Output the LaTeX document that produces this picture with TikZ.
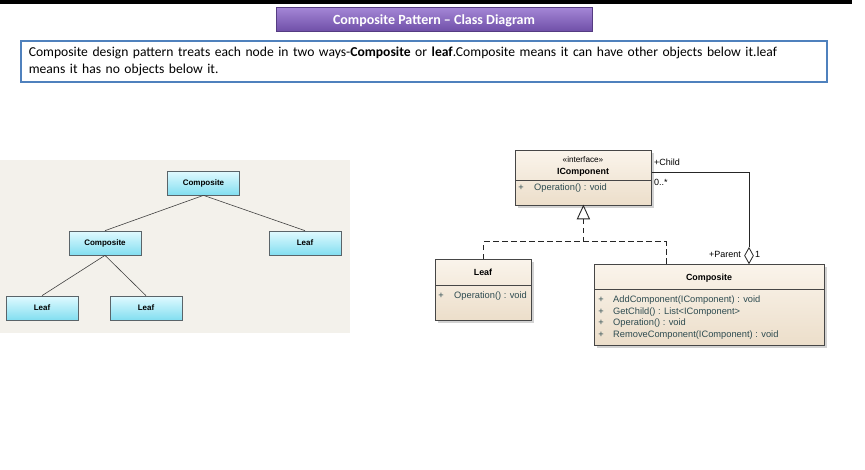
\documentclass[tikz,border=0pt]{standalone}
\usepackage{fontspec}
\setmainfont{Carlito}
\newfontfamily\umlfont{Liberation Sans}
\usetikzlibrary{shapes.geometric,shadows,calc}
\definecolor{descblue}{RGB}{79,129,189}
\definecolor{panelbg}{RGB}{243,241,235}
\definecolor{treeborder}{RGB}{90,100,105}
\definecolor{cyantop}{RGB}{225,250,255}
\definecolor{cyanbot}{RGB}{130,222,240}
\definecolor{umlborder}{RGB}{70,70,70}
\definecolor{umltop}{RGB}{250,244,235}
\definecolor{umlbot}{RGB}{236,222,202}
\definecolor{methodcol}{RGB}{45,75,80}
\definecolor{purtop}{RGB}{165,135,215}
\definecolor{purbot}{RGB}{112,80,168}
\definecolor{purborder}{RGB}{85,60,130}
\begin{document}
\begin{tikzpicture}[x=1pt,y=-1pt,
  titlebox/.style={draw=purborder, line width=0.8pt, top color=purtop, bottom color=purbot,
    minimum width=316, minimum height=24, inner sep=0pt, text=white,
    font=\bfseries\fontsize{14}{16}\selectfont},
  descbox/.style={draw=descblue, line width=1.6pt, fill=white, anchor=north west,
    minimum width=806, minimum height=41, text width=790, inner xsep=8pt, inner ysep=2pt, align=left,
    font=\fontsize{13.6}{17}\selectfont},
  treebox/.style={draw=treeborder, line width=0.7pt, top color=cyantop, bottom color=cyanbot,
    minimum width=72, minimum height=24, inner sep=0pt,
    font=\umlfont\bfseries\fontsize{8}{9}\selectfont},
  treeline/.style={draw=black!75, line width=0.6pt},
  umlbox/.style={draw=umlborder, line width=0.8pt, top color=umltop, bottom color=umlbot,
    anchor=north west, inner sep=0pt, drop shadow={shadow xshift=2.5pt, shadow yshift=-2.5pt, opacity=0.35}},
  umldiv/.style={draw=umlborder, line width=0.7pt},
  umlname/.style={font=\umlfont\bfseries\fontsize{8.9}{10}\selectfont, inner sep=0pt},
  umlster/.style={font=\umlfont\fontsize{8.2}{9}\selectfont, inner sep=0pt},
  umlplus/.style={font=\umlfont\fontsize{9.3}{10}\selectfont, inner sep=0pt, text=methodcol},
  umlmeth/.style={font=\umlfont\fontsize{9.3}{10}\selectfont, inner sep=0pt, anchor=west, text=methodcol},
  rolelabel/.style={font=\umlfont\fontsize{9}{10}\selectfont, inner sep=0pt},
  assoc/.style={draw=black!85, line width=0.8pt},
  realize/.style={draw=black!85, line width=0.9pt, dash pattern=on 5.5pt off 3.5pt}
]
\useasboundingbox (0,0) rectangle (865,469);
\fill[white] (0,0) rectangle (865,469);
\fill[black] (0,0) rectangle (852,4);

% title
\node[titlebox] (title) at (434,19) {};
\node[text=white, font=\bfseries\fontsize{14}{16}\selectfont, inner sep=0pt] (titletext) at (434,20.5) {Composite Pattern -- Class Diagram};

% description
\node[descbox] (desc) at (20,40) {Composite design pattern treats each node in two ways-\textbf{Composite} or \textbf{leaf}.Composite means it can have other objects below it.leaf\\means it has no objects below it.};

% left panel
\fill[panelbg] (0,160) rectangle (350,333);
\node[treebox] (c1) at (203.5,183) {Composite};
\node[treebox] (c2) at (105,243) {Composite};
\node[treebox] (l1) at (305,243) {Leaf};
\node[treebox] (l2) at (42,308) {Leaf};
\node[treebox] (l3) at (146,308) {Leaf};
\draw[treeline] (c1.south) -- (c2.north);
\draw[treeline] (c1.south) -- (l1.north);
\draw[treeline] (c2.south) -- (l2.north);
\draw[treeline] (c2.south) -- (l3.north);

% UML: IComponent
\node[umlbox, minimum width=136, minimum height=55] (icomp) at (515,150) {};
\node[umlster] (icster) at (583,160) {«interface»};
\node[umlname] (icname) at (583,172) {IComponent};
\draw[umldiv] (icomp.west |- 0,180) -- (icomp.east |- 0,180);
\node[umlplus] (icp) at (521,188) {+};
\node[umlmeth] (icm) at (534,188) {Operation() : void};

% UML: Leaf
\node[umlbox, minimum width=96, minimum height=61] (leaf) at (435,259) {};
\node[umlname] (leafname) at (483,272) {Leaf};
\draw[umldiv] (leaf.west |- 0,285) -- (leaf.east |- 0,285);
\node[umlplus] (leafp) at (441,296) {+};
\node[umlmeth] (leafm) at (454,296) {Operation() : void};

% UML: Composite
\node[umlbox, minimum width=230, minimum height=81] (comp) at (594,264) {};
\node[umlname] (compname) at (709,278) {Composite};
\draw[umldiv] (comp.west |- 0,289) -- (comp.east |- 0,289);
\node[umlplus] (cp1) at (601,300) {+};
\node[umlmeth] (cm1) at (613,300) {AddComponent(IComponent) : void};
\node[umlplus] (cp2) at (601,312) {+};
\node[umlmeth] (cm2) at (613,312) {GetChild() : List<IComponent>};
\node[umlplus] (cp3) at (601,323) {+};
\node[umlmeth] (cm3) at (613,323) {Operation() : void};
\node[umlplus] (cp4) at (601,335) {+};
\node[umlmeth] (cm4) at (613,335) {RemoveComponent(IComponent) : void};

% realization (dashed + hollow triangle)
\coordinate (tribase) at ($(icomp.south)+(0,13)$);
\coordinate (bus) at ($(icomp.south)+(0,36)$);
\coordinate (compin) at ($(comp.north west)+(72,0)$);
\draw[realize] (tribase) -- (bus);
\draw[realize] (leaf.north) |- (bus) -| (compin);
\draw[draw=black!85, line width=0.9pt, fill=white, line join=miter] (icomp.south) -- ($(icomp.south)+(-6,13)$) -- ($(icomp.south)+(6,13)$) -- cycle;

% aggregation (child/parent)
\node[diamond, draw=black!85, line width=0.8pt, fill=white, minimum width=9, minimum height=16, inner sep=0pt, anchor=south] (dia) at ($(comp.north west)+(155,0)$) {};
\coordinate (childpt) at ($(icomp.north east)+(0,22)$);
\draw[assoc] (childpt) -| (dia.north);
\node[rolelabel, anchor=west] (child) at (654,162) {+Child};
\node[rolelabel, anchor=west] (mult) at (654,182) {0..*};
\node[rolelabel, anchor=east] (parent) at (741,254) {+Parent};
\node[rolelabel, anchor=west] (one) at (755,254) {1};
\end{tikzpicture}
\end{document}
